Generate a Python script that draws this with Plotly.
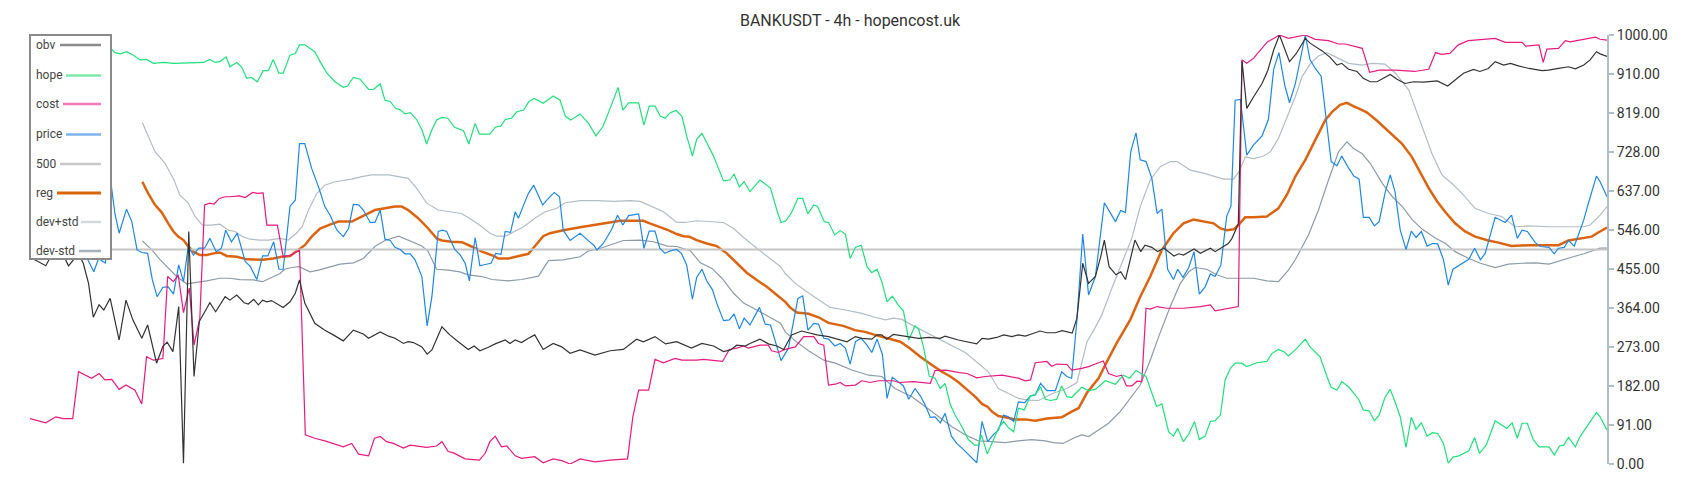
import plotly.graph_objects as go

# ---------------- data ----------------
title_text = "BANKUSDT - 4h - hopencost.uk"
n_candles = 300
level_500 = 500
y_ticks = [0, 91, 182, 273, 364, 455, 546, 637, 728, 819, 910, 1000]

cost_x = [0, 3.0, 4.9, 6.3, 8.1, 9.2, 11.7, 13.1, 14.2, 15.5,
          16.9, 18.2, 19.9, 21.2, 22.1, 23.4, 25.2, 26.1, 27.2, 28.1,
          29.1, 30.2, 31.1, 32.2, 33.1, 34.1, 34.9, 35.9, 37.0, 37.9,
          39.7, 40.8, 42.2, 43.1, 44.2, 44.9, 46.9, 48.0, 49.5, 51.1,
          52.2, 54.0, 55.9, 57.5, 59.4, 61.0, 62.3, 64.2, 65.3, 66.4,
          67.6, 68.9, 70.8, 72.1, 75.2, 77.1, 78.1, 79.3, 80.3, 82.5,
          85.2, 86.3, 87.2, 88.2, 89.4, 90.4, 92.0, 93.2, 94.5, 95.7,
          97.3, 99.2, 100.8, 102.4, 104.3, 107.1, 110.0, 113.3, 114.3, 115.4,
          117.3, 118.5, 120.1, 122.3, 123.6, 126.4, 127.7, 131.3, 132.6, 134.0,
          135.3, 136.2, 138.4, 140.0, 140.6, 141.9, 142.9, 145.1, 146.7, 148.6,
          149.5, 150.5, 151.4, 152.7, 153.6, 154.6, 156.5, 157.7, 159.3, 160.9,
          163.7, 164.7, 167.5, 170.7, 171.6, 173.6, 176.2, 177.7, 179.5, 181.1,
          184.3, 185.6, 187.4, 188.7, 189.7, 190.6, 192.8, 193.7, 194.7, 196.6,
          197.5, 199.4, 200.7, 202.0, 203.5, 204.5, 206.0, 207.0, 207.9, 208.9,
          209.9, 210.8, 211.6, 212.4, 213.7, 215.5, 218.7, 221.9, 223.8, 224.7,
          227.6, 229.1, 229.8, 230.7, 232.0, 233.3, 234.6, 235.8, 236.9, 238.6,
          241.8, 243.7, 246.2, 248.1, 249.4, 252.6, 254.0, 255.8, 258.9, 262.5,
          265.2, 266.5, 267.6, 269.2, 270.8, 272.7, 277.8, 279.7, 282.9, 283.6,
          286.1, 286.9, 287.6, 289.8, 291.1, 292.0, 293.6, 296.8, 297.7, 299.0]
cost_y = [106, 96, 110, 106, 106, 215, 200, 211, 196, 197,
          174, 184, 172, 140, 250, 242, 246, 437, 425, 441,
          353, 410, 277, 340, 604, 608, 606, 619, 623, 623,
          625, 621, 633, 631, 632, 557, 557, 483, 487, 499,
          68, 60, 54, 48, 40, 48, 23, 19, 60, 64,
          52, 48, 37, 44, 39, 42, 52, 29, 26, 12,
          9, 25, 52, 65, 40, 42, 19, 13, 16, 17,
          3, 12, 8, 0, 12, 5, 9, 12, 110, 172,
          172, 244, 236, 246, 242, 242, 244, 239, 267, 270,
          275, 270, 277, 277, 264, 260, 266, 273, 297, 297,
          281, 277, 184, 186, 190, 182, 184, 194, 190, 194,
          194, 190, 192, 188, 218, 219, 213, 211, 201, 204,
          207, 204, 200, 194, 196, 236, 239, 228, 233, 232,
          219, 223, 227, 233, 240, 211, 204, 207, 182, 182,
          193, 192, 363, 361, 367, 363, 363, 367, 371, 357,
          363, 367, 942, 934, 946, 965, 984, 992, 1000, 992,
          1000, 990, 987, 979, 979, 969, 913, 918, 918, 915,
          920, 959, 955, 957, 977, 987, 992, 983, 983, 974,
          977, 936, 967, 969, 987, 984, 988, 995, 990, 988]

obv_x = [0, 0.9, 3.0, 4.4, 6.0, 7.3, 9.2, 10.1, 11.1, 12.0,
         13.1, 14.0, 15.2, 16.9, 18.2, 19.5, 21.2, 22.3, 24.0, 25.2,
         26.0, 27.1, 28.2, 29.1, 30.1, 31.1, 32.1, 34.1, 35.2, 37.0,
         37.9, 39.2, 40.6, 41.4, 42.4, 43.3, 44.1, 44.9, 45.8, 48.0,
         49.3, 50.3, 51.1, 52.1, 54.0, 55.9, 57.5, 59.4, 61.3, 63.2,
         64.2, 66.4, 68.0, 69.2, 70.8, 71.7, 72.7, 74.3, 75.3, 76.2,
         78.1, 79.6, 81.2, 83.1, 84.2, 85.3, 86.9, 88.2, 90.1, 91.0,
         92.0, 93.2, 94.5, 95.7, 97.3, 99.2, 100.8, 102.4, 104.3, 107.1,
         110.0, 112.5, 115.0, 116.3, 118.5, 120.5, 122.6, 125.4, 127.4, 129.6,
         131.5, 132.8, 134.0, 135.6, 136.5, 138.4, 140.0, 141.6, 142.9, 144.4,
         146.3, 147.9, 149.2, 151.4, 152.7, 154.9, 156.5, 157.7, 159.6, 160.6,
         161.5, 162.4, 163.7, 166.2, 168.5, 170.4, 172.6, 173.5, 176.0, 179.5,
         180.5, 181.7, 183.3, 184.6, 186.2, 187.4, 188.7, 189.9, 191.5, 192.8,
         194.4, 195.7, 197.6, 198.5, 199.6, 200.7, 202.0, 203.0, 203.7, 204.6,
         205.9, 206.8, 207.7, 209.5, 210.6, 211.4, 212.7, 213.8, 215.0, 216.9,
         217.8, 218.7, 220.7, 221.9, 223.8, 224.7, 225.9, 227.2, 227.9, 229.1, 229.8,
         230.7, 232.0, 233.6, 234.7, 235.8, 236.9, 238.8, 240.1, 241.8, 242.7,
         245.0, 246.5, 247.8, 248.7, 250.0, 251.6, 252.8, 254.1, 255.4, 256.6,
         257.9, 259.2, 260.7, 262.3, 264.2, 266.8, 268.8, 270.2, 271.8, 273.7,
         274.9, 276.5, 277.8, 279.4, 280.7, 282.2, 284.2, 286.7, 287.9, 289.8,
         291.7, 293.0, 294.6, 295.8, 297.0, 297.7, 299.0]
obv_y = [480, 476, 462, 495, 495, 462, 490, 468, 421, 342,
         371, 359, 386, 289, 382, 336, 293, 324, 235, 274,
         284, 262, 367, 2, 542, 204, 332, 376, 355, 390,
         382, 394, 376, 373, 384, 371, 382, 378, 381, 365,
         378, 398, 429, 375, 328, 312, 301, 287, 312, 303,
         293, 308, 298, 293, 281, 285, 283, 273, 256, 266,
         320, 301, 285, 267, 275, 264, 272, 280, 289, 281,
         289, 283, 293, 301, 267, 281, 273, 258, 266, 254,
         264, 267, 291, 285, 297, 280, 285, 270, 281, 275,
         262, 266, 277, 275, 281, 291, 280, 275, 267, 301,
         310, 305, 301, 297, 293, 285, 297, 293, 291, 301,
         301, 291, 302, 297, 293, 295, 293, 298, 289, 280,
         293, 291, 295, 301, 297, 301, 298, 303, 310, 306,
         306, 311, 305, 340, 468, 421, 437, 483, 522, 460,
         441, 448, 430, 522, 495, 510, 505, 495, 503, 485,
         490, 487, 501, 491, 503, 495, 505, 514, 526, 560, 940,
         829, 856, 887, 918, 965, 1000, 938, 957, 992, 981,
         963, 948, 930, 934, 920, 915, 899, 891, 891, 899,
         908, 897, 887, 891, 890, 893, 881, 895, 911, 920,
         915, 922, 938, 930, 934, 928, 922, 917, 918, 922,
         926, 921, 930, 942, 961, 956, 950]

hope_x = [0, 3, 6, 9, 12, 15.3, 16.1, 17.1, 18.3, 19.6,
          20.9, 22.1, 23.4, 25.3, 27.2, 32.9, 34.1, 35.1, 36.0, 37.2,
          37.9, 39.2, 40.1, 41.1, 42.0, 43.1, 44.2, 45.2, 46.1, 47.2,
          48.0, 49.3, 50.3, 51.1, 52.1, 54.0, 55.0, 56.3, 57.8, 59.4,
          60.2, 61.3, 62.6, 64.2, 65.1, 66.4, 67.3, 68.3, 69.3, 70.3,
          71.1, 72.1, 73.3, 74.3, 75.2, 76.2, 77.1, 78.1, 79.2, 80.5,
          82.2, 83.2, 84.4, 85.2, 87.2, 88.2, 89.3, 90.1, 91.3, 92.3,
          93.6, 94.6, 95.6, 97.3, 99.2, 100.5, 101.5, 102.5, 104.3, 105.9,
          107.3, 108.6, 110.0, 111.5, 112.4, 113.5, 115.4, 116.4, 117.4, 118.5,
          119.5, 120.4, 121.4, 122.5, 123.6, 124.5, 125.6, 126.4, 127.4, 129.5,
          131.5, 132.7, 133.5, 134.5, 135.4, 136.5, 138.4, 140.4, 141.6, 142.4,
          143.3, 144.3, 145.6, 146.5, 147.5, 148.6, 149.3, 150.6, 151.4, 152.6,
          153.6, 154.6, 155.5, 156.5, 157.6, 158.7, 159.6, 160.6, 161.5, 162.5,
          163.5, 164.6, 165.6, 166.6, 167.8, 168.5, 169.4, 170.5, 171.6, 172.6,
          173.5, 174.5, 175.4, 176.7, 177.9, 179.1, 179.8, 180.4, 181.5, 182.6,
          183.6, 184.6, 185.5, 186.5, 187.4, 188.5, 189.7, 190.6, 191.6, 192.5,
          193.5, 194.7, 195.6, 196.6, 197.5, 199.4, 200.7, 202.0, 203.9, 205.8,
          207.3, 208.5, 209.7, 210.8, 211.6, 213.6, 214.6, 215.9, 216.8, 217.6,
          218.7, 219.7, 220.8, 221.7, 222.8, 223.8, 224.7, 225.7, 226.6, 227.6,
          228.5, 229.7, 230.7, 232.6, 234.5, 235.5, 236.7, 237.7, 238.6, 239.9,
          241.8, 242.7, 244.6, 245.9, 246.7, 247.8, 248.7, 250.0, 250.9, 251.9,
          252.8, 253.9, 254.9, 255.8, 256.9, 257.9, 258.8, 259.8, 260.9, 261.9,
          262.8, 263.8, 264.9, 265.9, 266.9, 268.0, 268.9, 269.8, 270.9, 272.8,
          273.9, 274.8, 276.1, 277.8, 280.0, 281.0, 282.0, 282.9, 283.9, 285.0,
          286.1, 288.0, 289.0, 290.0, 290.8, 291.7, 293.0, 293.9, 295.5, 297.0,
          297.7, 299.0]
hope_y = [975, 968, 972, 966, 970, 969, 959, 956, 961, 953,
          942, 943, 934, 936, 934, 936, 943, 936, 938, 949,
          926, 936, 926, 899, 901, 891, 917, 917, 943, 911,
          911, 953, 957, 977, 977, 961, 938, 911, 891, 878,
          881, 901, 897, 873, 873, 886, 848, 845, 829, 825,
          816, 819, 803, 779, 746, 779, 802, 808, 806, 785,
          777, 746, 794, 769, 769, 785, 788, 803, 806, 821,
          825, 845, 852, 841, 858, 848, 811, 802, 816, 794,
          765, 786, 829, 878, 825, 842, 842, 790, 834, 834,
          811, 806, 819, 824, 811, 765, 718, 757, 771, 720,
          660, 662, 676, 646, 658, 635, 662, 643, 592, 563,
          567, 584, 619, 619, 583, 604, 601, 565, 563, 534,
          544, 536, 479, 505, 510, 460, 446, 454, 425, 378,
          391, 371, 357, 289, 322, 314, 273, 205, 200, 176,
          188, 138, 114, 87, 57, 44, 44, 68, 23, 56,
          83, 99, 85, 75, 130, 126, 159, 161, 180, 151,
          148, 151, 182, 157, 155, 179, 171, 174, 194, 186,
          207, 200, 218, 210, 204, 134, 140, 75, 65, 83,
          52, 70, 99, 57, 65, 99, 101, 114, 196, 223,
          235, 235, 227, 236, 239, 258, 267, 262, 252, 266,
          291, 273, 250, 204, 179, 172, 192, 180, 165, 151,
          126, 124, 101, 114, 155, 174, 145, 110, 39, 109,
          81, 96, 65, 73, 71, 48, 2, 16, 19, 31,
          62, 25, 44, 101, 83, 96, 60, 95, 95, 57,
          40, 40, 21, 42, 44, 62, 40, 64, 93, 120,
          110, 79]

price_x = [0, 2, 4, 6, 8, 10, 12.1, 13.0, 14.3, 15.4,
           16.1, 16.9, 18.3, 19.3, 20.3, 21.2, 22.3, 23.2, 24.1, 25.2,
           26.2, 27.2, 28.2, 29.1, 30.0, 31.0, 32.0, 33.1, 34.1, 35.3,
           36.3, 37.1, 38.2, 39.3, 40.8, 41.8, 43.0, 44.1, 45.1, 46.2,
           47.2, 48.0, 49.3, 50.3, 51.1, 52.1, 53.4, 54.7, 55.9, 56.9,
           58.2, 59.4, 60.4, 61.3, 62.3, 63.2, 64.5, 65.4, 66.4, 67.3,
           68.3, 69.2, 70.2, 71.1, 72.1, 73.0, 74.3, 75.3, 76.2, 77.4,
           78.2, 79.0, 80.5, 81.6, 82.5, 83.3, 84.4, 85.3, 86.3, 87.4,
           88.3, 89.3, 90.1, 91.1, 92.0, 92.6, 93.6, 94.5, 95.5, 97.2,
           98.3, 99.4, 100.4, 101.1, 102.4, 104.3, 105.9, 106.9, 107.5, 108.7,
           110.3, 111.4, 112.4, 113.5, 115.4, 116.4, 117.4, 118.5, 119.4, 120.4,
           121.4, 122.6, 123.5, 124.5, 125.6, 126.4, 127.4, 128.3, 129.4, 130.2,
           131.5, 132.6, 133.5, 134.5, 135.4, 136.5, 138.3, 139.4, 140.4, 141.5,
           142.4, 143.8, 144.7, 145.6, 146.5, 147.5, 148.6, 149.5, 150.5, 151.4,
           152.6, 153.6, 154.6, 155.5, 156.5, 157.6, 158.7, 159.6, 160.6, 161.6,
           162.5, 163.5, 164.6, 165.6, 166.6, 167.8, 168.8, 169.7, 170.7, 171.6,
           172.6, 173.5, 174.7, 175.7, 176.7, 177.8, 178.9, 179.5, 180.5, 181.6,
           182.6, 183.6, 184.6, 185.5, 186.5, 187.4, 188.6, 189.7, 190.6, 191.6,
           192.8, 194.4, 195.6, 196.6, 197.5, 198.5, 199.6, 200.7, 202.0, 203.7,
           204.8, 205.8, 206.8, 207.7, 208.7, 209.7, 210.5, 211.6, 212.7, 213.7,
           214.6, 215.7, 216.8, 217.6, 218.6, 219.7, 220.7, 221.7, 222.8, 223.8,
           224.7, 225.8, 226.9, 227.7, 228.5, 229.5, 230.7, 232.0, 233.6, 234.8,
           235.8, 236.8, 237.9, 238.8, 239.9, 240.8, 241.8, 242.7, 243.7, 244.8,
           245.9, 246.7, 247.8, 248.7, 249.9, 251.0, 252.0, 252.8, 253.9, 254.9,
           255.8, 256.9, 257.9, 258.8, 259.8, 260.9, 261.9, 262.8, 263.8, 264.9,
           265.9, 266.9, 268.0, 268.9, 269.8, 270.9, 271.8, 272.8, 273.9, 275.0,
           275.9, 276.9, 277.8, 279.7, 280.9, 282.0, 282.9, 283.9, 285.4, 286.4,
           288.0, 289.0, 289.8, 290.9, 291.7, 292.8, 294.6, 295.5, 297.0, 297.7,
           299.0]
price_y = [520, 565, 600, 540, 585, 500, 448, 479, 468, 650,
           584, 538, 594, 565, 499, 493, 491, 429, 390, 412,
           413, 396, 464, 425, 507, 487, 503, 503, 526, 495,
           503, 545, 518, 538, 472, 460, 430, 485, 485, 518,
           454, 454, 601, 615, 747, 747, 689, 646, 600, 580,
           545, 530, 549, 605, 604, 592, 563, 563, 592, 524,
           521, 505, 500, 490, 490, 476, 437, 322, 390, 542,
           545, 542, 501, 487, 468, 427, 528, 462, 465, 468,
           491, 489, 542, 540, 588, 573, 604, 631, 650, 604,
           619, 633, 623, 545, 521, 538, 520, 510, 499, 514,
           547, 580, 557, 579, 583, 503, 543, 543, 503, 491,
           497, 500, 491, 464, 384, 435, 454, 427, 406, 375,
           334, 336, 350, 315, 340, 324, 365, 326, 324, 281,
           241, 270, 328, 386, 392, 312, 328, 326, 293, 291,
           275, 281, 270, 233, 285, 293, 277, 260, 291, 256,
           153, 202, 192, 182, 151, 176, 159, 138, 109, 110,
           96, 118, 65, 48, 37, 23, 9, 3, 99, 52,
           68, 79, 114, 110, 99, 145, 143, 159, 161, 188,
           171, 171, 215, 204, 200, 336, 536, 394, 437, 609,
           586, 565, 591, 586, 728, 772, 709, 705, 666, 584,
           594, 454, 430, 454, 435, 458, 495, 396, 413, 443,
           437, 464, 578, 601, 848, 850, 720, 744, 765, 803,
           920, 959, 883, 842, 886, 938, 1000, 942, 922, 904,
           790, 705, 695, 718, 692, 671, 664, 575, 575, 555,
           565, 631, 674, 635, 545, 500, 543, 528, 542, 508,
           514, 513, 476, 417, 454, 462, 468, 477, 503, 476,
           491, 538, 575, 563, 580, 526, 545, 542, 516, 507,
           505, 490, 503, 505, 521, 508, 569, 609, 671, 658,
           623]

reg_x = [21.3, 22.4, 23.7, 25.0, 26.2, 27.2, 28.1, 29.1, 30.0, 31.0,
         32.2, 33.5, 34.8, 36.0, 37.3, 39.2, 41.1, 42.4, 44.2, 46.1,
         47.7, 49.3, 50.9, 52.1, 53.4, 55.0, 56.6, 58.5, 61.0, 63.2,
         65.4, 67.3, 69.2, 70.5, 71.7, 73.6, 75.5, 77.1, 78.1, 79.9,
         81.9, 83.7, 85.7, 87.9, 88.8, 90.7, 93.2, 94.5, 95.0, 96.1,
         97.3, 98.6, 101.1, 104.3, 106.5, 109.0, 111.9, 116.3, 117.5, 119.4,
         121.0, 122.6, 123.9, 125.0, 126.4, 128.3, 130.2, 132.1, 134.0, 135.9,
         137.8, 139.7, 141.6, 143.2, 144.1, 145.4, 147.6, 149.5, 151.4, 154.2,
         156.4, 158.3, 160.2, 162.8, 165.0, 166.8, 168.8, 171.0, 172.9, 174.5,
         176.1, 177.6, 179.2, 180.5, 181.5, 182.4, 183.6, 184.9, 186.8, 188.7,
         190.6, 192.8, 195.6, 197.5, 198.8, 200.4, 202.6, 204.2, 206.0, 208.6,
         210.5, 212.4, 214.6, 216.8, 218.7, 220.6, 222.5, 224.4, 225.7, 226.9,
         228.2, 229.1, 230.4, 232.0, 234.5, 236.7, 238.3, 239.9, 241.8, 243.7,
         245.6, 246.9, 248.4, 249.7, 250.9, 252.6, 253.5, 255.4, 257.6, 260.1,
         262.0, 263.6, 265.2, 266.8, 268.3, 270.2, 272.1, 274.0, 276.5, 278.4,
         280.9, 284.2, 288.0, 289.8, 291.7, 293.3, 296.1, 297.1, 299.0]
reg_y = [658, 631, 604, 586, 561, 542, 530, 522, 507, 495,
         487, 487, 491, 493, 485, 483, 477, 476, 476, 479,
         483, 485, 499, 510, 530, 549, 557, 565, 565, 578,
         592, 596, 600, 600, 592, 573, 549, 526, 521, 518,
         517, 507, 495, 485, 479, 479, 486, 490, 497, 514,
         531, 538, 545, 552, 557, 561, 567, 567, 561, 553,
         545, 536, 531, 530, 522, 514, 508, 491, 468, 446,
         429, 413, 394, 378, 365, 353, 350, 342, 329, 322,
         312, 308, 301, 293, 285, 270, 250, 231, 215, 204,
         190, 174, 157, 140, 134, 122, 112, 109, 104, 104,
         101, 106, 109, 122, 130, 166, 200, 239, 281, 336,
         390, 437, 499, 538, 561, 570, 565, 561, 549, 545,
         547, 557, 575, 575, 577, 596, 627, 670, 709, 755,
         802, 821, 837, 842, 834, 825, 819, 800, 775, 747,
         716, 678, 643, 612, 588, 561, 542, 530, 521, 516,
         508, 510, 510, 510, 521, 524, 530, 538, 551]

dev_plus_x = [21.3, 22.8, 23.7, 25.6, 27.3, 28.4, 30.0, 31.3, 32.7, 34.4,
              36.0, 37.6, 38.9, 40.3, 41.7, 43.6, 45.2, 47.4, 49.0, 50.6,
              51.6, 52.8, 54.4, 55.9, 57.8, 61.0, 62.9, 64.8, 68.0, 69.9,
              71.7, 73.3, 75.2, 77.4, 79.3, 81.8, 83.7, 85.7, 87.2, 88.5,
              90.1, 92.0, 93.6, 95.7, 97.7, 99.9, 101.5, 104.3, 107.5, 110.6,
              113.8, 115.7, 117.6, 120.1, 122.6, 124.2, 126.4, 129.0, 131.5, 133.4,
              135.3, 137.8, 140.4, 142.3, 143.2, 145.1, 147.0, 149.5, 151.7, 154.6,
              157.7, 160.2, 162.2, 163.7, 165.3, 167.5, 169.7, 172.2, 174.8, 177.3,
              179.8, 181.7, 183.6, 185.5, 187.4, 189.3, 191.2, 194.0, 196.6, 198.5,
              200.4, 201.7, 203.2, 205.1, 207.3, 208.9, 210.5, 212.4, 214.3, 216.2,
              217.5, 220.0, 222.5, 224.4, 226.3, 228.2, 229.4, 230.4, 232.0, 233.9,
              235.2, 236.7, 238.6, 239.9, 241.2, 242.8, 244.3, 245.9, 247.5, 250.0,
              252.6, 254.4, 256.9, 258.9, 261.4, 263.9, 265.8, 267.7, 269.6, 271.5,
              274.0, 276.5, 279.0, 281.6, 284.2, 288.0, 292.0, 294.6, 295.8, 297.7,
              299.0]
dev_plus_y = [796, 755, 728, 701, 662, 627, 608, 577, 557, 557,
              559, 545, 542, 530, 524, 522, 522, 526, 522, 539,
              553, 592, 631, 650, 658, 664, 670, 674, 674, 670,
              666, 643, 608, 592, 588, 584, 570, 553, 538, 531,
              531, 542, 553, 573, 588, 596, 609, 614, 614, 612,
              614, 612, 601, 588, 563, 563, 567, 565, 563, 549,
              528, 503, 479, 460, 444, 421, 404, 384, 365, 359,
              351, 342, 336, 340, 337, 322, 308, 293, 275, 260,
              235, 215, 176, 165, 153, 149, 148, 165, 176, 190,
              285, 312, 347, 409, 479, 526, 600, 662, 693, 705,
              705, 685, 678, 671, 664, 664, 685, 716, 712, 718,
              728, 759, 814, 856, 903, 934, 951, 959, 949, 934,
              930, 934, 932, 911, 872, 790, 724, 674, 654, 631,
              596, 584, 577, 553, 555, 553, 553, 553, 557, 580,
              600]

dev_minus_x = [21.3, 23.1, 24.7, 26.2, 27.8, 29.7, 31.6, 33.5, 36.0, 37.9,
               39.8, 42.4, 44.1, 46.1, 47.4, 48.3, 49.6, 51.0, 53.1, 54.7,
               56.6, 58.8, 61.3, 63.2, 65.4, 67.3, 69.9, 71.7, 74.3, 75.5,
               77.1, 79.3, 81.5, 83.1, 85.7, 87.6, 90.7, 93.2, 95.7, 96.4,
               98.3, 101.1, 104.3, 105.9, 107.5, 110.0, 112.5, 115.7, 118.2, 120.8,
               122.6, 125.2, 127.1, 129.3, 131.2, 133.4, 135.3, 137.8, 140.4, 142.3,
               143.2, 145.1, 147.6, 150.5, 152.7, 155.8, 159.0, 161.5, 164.0, 167.2,
               169.7, 172.2, 174.8, 177.3, 179.8, 182.4, 184.9, 187.4, 189.9, 192.5,
               194.0, 195.9, 197.8, 199.4, 200.7, 202.6, 204.5, 206.7, 208.6, 210.5,
               212.4, 214.0, 216.2, 218.1, 219.7, 220.9, 223.1, 225.0, 226.9, 229.4,
               232.0, 234.5, 236.7, 238.6, 239.9, 242.4, 244.3, 246.2, 248.1, 249.7,
               250.9, 252.6, 254.1, 256.4, 258.3, 260.2, 262.1, 264.0, 266.5, 268.4,
               270.2, 272.8, 275.0, 277.8, 280.3, 282.9, 285.4, 288.0, 290.7, 292.6,
               294.6, 296.4, 297.7, 299.0]
dev_minus_y = [520, 499, 476, 456, 437, 420, 423, 427, 433, 433,
               430, 429, 425, 437, 444, 454, 458, 460, 448, 452,
               458, 466, 469, 479, 507, 521, 531, 521, 508, 495,
               454, 452, 448, 441, 437, 430, 427, 430, 435, 438,
               474, 476, 483, 497, 500, 510, 521, 522, 518, 508,
               507, 497, 469, 456, 433, 398, 375, 359, 342, 328,
               308, 287, 264, 242, 235, 219, 207, 204, 176, 157,
               134, 110, 87, 68, 54, 52, 50, 54, 57, 54,
               50, 48, 60, 68, 64, 79, 95, 122, 153, 184,
               242, 297, 367, 421, 448, 458, 454, 441, 433, 433,
               433, 427, 425, 452, 476, 534, 592, 662, 728, 751,
               736, 723, 701, 654, 623, 600, 569, 547, 526, 514,
               495, 479, 468, 458, 466, 468, 469, 466, 477, 483,
               490, 497, 503, 503]

# ---------------- figure ----------------
# the page body keeps the browser's default 8px margin, so the figure is
# sized and offset to land on the reference's 1700x500 geometry
BODY = 8
PAGE_W, PAGE_H = 1700, 500
W, H = PAGE_W - 2 * BODY, PAGE_H - 2 * BODY
PLOT_L, PLOT_R, PLOT_T, PLOT_B = 30, 1607, 35, 464      # page pixels
ML, MT = PLOT_L - BODY, PLOT_T - BODY
MR, MB = W - (PLOT_R - BODY), H - (PLOT_B - BODY)
PW, PH = PLOT_R - PLOT_L, PLOT_B - PLOT_T
FONT = "Roboto, 'Open Sans', sans-serif"


def px_x(p):
    return (p - PLOT_L) / PW


def px_y(p):
    return (PLOT_B - p) / PH


fig = go.Figure()


def add_line(name, xs, ys, color, width):
    fig.add_trace(go.Scatter(x=xs, y=ys, mode="lines", name=name,
                             line=dict(color=color, width=width),
                             hoverinfo="skip", showlegend=False))


# drawn bottom -> top (first legend entry ends on top)
add_line("dev-std", dev_minus_x, dev_minus_y, "#8e9aa6", 1.2)
add_line("dev+std", dev_plus_x, dev_plus_y, "#b3bcc5", 1.2)
add_line("reg", reg_x, reg_y, "#dc6410", 2.5)
add_line("500", [0, n_candles - 1], [level_500, level_500], "#c6c6c6", 2)
add_line("price", price_x, price_y, "#1f88e5", 1.2)
add_line("cost", cost_x, cost_y, "#e8197f", 1.2)
add_line("hope", hope_x, hope_y, "#1fe07a", 1.2)
add_line("obv", obv_x, obv_y, "#333333", 1.2)

# custom legend (text left, line swatch right)
legend_items = [
    ("obv", "#8c8c8c", 2.5, 45, 60),
    ("hope", "#80e8aa", 2.5, 75.5, 66),
    ("cost", "#ef7cb7", 2.5, 104, 63),
    ("price", "#7cb4ec", 2.5, 134.5, 66),
    ("500", "#c9c9c9", 2.5, 164, 60),
    ("reg", "#d9650b", 3, 193, 57),
    ("dev+std", "#d3d8dc", 2.5, 222, 81),
    ("dev-std", "#a8b1ba", 2.5, 251, 79),
]
shapes = [dict(type="rect", xref="paper", yref="paper", layer="above",
               x0=px_x(30), x1=px_x(111), y0=px_y(259), y1=px_y(35),
               fillcolor="white", line=dict(color="#8a8a8a", width=2))]
annotations = []
for name, col, lw, yc, xs in legend_items:
    shapes.append(dict(type="line", xref="paper", yref="paper", layer="above",
                       x0=px_x(xs), x1=px_x(101), y0=px_y(yc), y1=px_y(yc),
                       line=dict(color=col, width=lw)))
    annotations.append(dict(text=name, xref="paper", yref="paper",
                            x=px_x(34), y=px_y(yc), xanchor="left", yanchor="middle",
                            showarrow=False, font=dict(family=FONT, size=12, color="#444")))

fig.update_layout(
    width=W, height=H, autosize=False,
    margin=dict(l=ML, r=MR, t=MT, b=MB, pad=0),
    paper_bgcolor="white", plot_bgcolor="white",
    title=dict(text=title_text, x=0.5, xref="container", xanchor="center",
               y=1 - (20.5 - BODY) / H, yref="container", yanchor="middle",
               font=dict(family=FONT, size=16, color="#333")),
    xaxis=dict(visible=False, range=[0, n_candles - 1], fixedrange=True),
    yaxis=dict(side="right", range=[0, 1000], tickvals=y_ticks,
               ticktext=[f"{v:.2f}" for v in y_ticks],
               showgrid=False, zeroline=False, showline=True,
               linecolor="#b0bec5", linewidth=2, ticks="outside",
               ticklen=5, tickwidth=2, tickcolor="#b0bec5",
               tickfont=dict(family=FONT, size=14, color="#333"),
               fixedrange=True),
    shapes=shapes, annotations=annotations, showlegend=False,
)

fig.write_html("out.html")
